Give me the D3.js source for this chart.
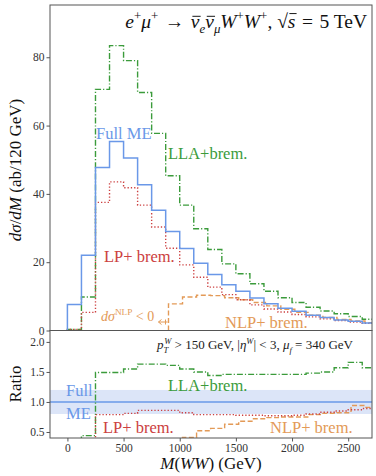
<html>
<head>
<meta charset="utf-8">
<style>
  body { margin: 0; background: #fff; }
  svg { display: block; }
  text { font-family: "Liberation Serif", serif; }
  .axis line { stroke: #555; }
</style>
</head>
<body>
<script src="https://d3js.org/d3.v7.min.js"></script>
<script>
// bin lower edges (GeV), bins are 125 GeV wide
var binLo = [0, 125, 250, 375, 500, 625, 750, 875, 1000, 1125, 1250, 1375, 1500, 1625,
             1750, 1875, 2000, 2125, 2250, 2375, 2500, 2625];
var nlpLo = [900, 1025, 1150, 1275, 1400, 1525, 1650, 1775, 1900, 2025, 2150, 2275, 2400, 2525, 2650];
var binW = 125;

// d sigma / dM  (ab / 120 GeV)
var fullME = [7.6, 22.0, 47.7, 55.3, 50.5, 42.7, 35.2, 29.0, 24.0, 19.7, 16.4, 13.4, 11.5, 9.5,
              7.8, 6.5, 5.6, 4.5, 3.8, 3.1, 2.7, 2.2];
var llaBrem = [0.3, 9.8, 70.6, 83.4, 79.0, 69.7, 57.7, 45.3, 36.7, 29.8, 23.7, 19.5, 16.6, 13.7,
               11.5, 9.6, 8.2, 6.8, 5.7, 4.9, 4.1, 3.3];
var lpBrem = [0.3, 5.3, 37.5, 43.5, 41.8, 36.7, 30.3, 24.1, 19.2, 15.6, 12.7, 10.5, 9.0, 7.5,
              6.3, 5.4, 4.7, 4.0, 3.4, 2.9, 2.5, 2.1];
var nlpBrem = [7.8, 9.8, 10.3, 10.2, 9.6, 9.0, 8.2, 7.2, 6.2, 5.3, 4.5, 3.8, 3.2, 2.8, 2.3];

// ratios to the full matrix element
var llaRatio = [0.04, 0.44, 1.49, 1.49, 1.55, 1.63, 1.63, 1.61, 1.55, 1.50, 1.44, 1.46, 1.46, 1.46,
                1.46, 1.46, 1.46, 1.48, 1.50, 1.57, 1.66, 1.57];
var lpRatio = [0.04, 0.24, 0.79, 0.79, 0.81, 0.86, 0.86, 0.86, 0.82, 0.79, 0.79, 0.79, 0.78, 0.78,
               0.77, 0.77, 0.78, 0.80, 0.83, 0.85, 0.87, 0.89];
var nlpRatio = [0.27, 0.41, 0.52, 0.56, 0.63, 0.68, 0.72, 0.74, 0.75, 0.75, 0.79, 0.81, 0.82, 0.94, 0.91];

var yTicksMain = [0, 20, 40, 60, 80];
var yTicksRatio = [0.5, 1.0, 1.5, 2.0];
var xTicks = [0, 500, 1000, 1500, 2000, 2500];

var col = {full: "#6a98e8", lla: "#3b9b3b", lp: "#cc4040", nlp: "#e39a57"};

var W = 376, H = 476;
var L = 50, R = 372, mTop = 5, mBot = 330.5, rTop = 330.5, rBot = 438;

var svg = d3.select("body").append("svg").attr("width", W).attr("height", H);

var x = d3.scaleLinear().domain([-155, 2712]).range([L, R]);
var y = d3.scaleLinear().domain([0, 95.3]).range([mBot, mTop]);
var yr = d3.scaleLinear().domain([0.4, 2.19]).range([rBot, rTop]);

var defs = svg.append("defs");
defs.append("clipPath").attr("id", "clipM").append("rect")
    .attr("x", L).attr("y", mTop).attr("width", R - L).attr("height", mBot - mTop);
defs.append("clipPath").attr("id", "clipR").append("rect")
    .attr("x", L).attr("y", rTop).attr("width", R - L).attr("height", rBot - rTop);

function stepPts(lo, vals, base) {
    var pts = [[lo[0], base]];
    lo.forEach(function(e, i) { pts.push([e, vals[i]]); });
    pts.push([lo[lo.length - 1] + binW, vals[vals.length - 1]]);
    return pts;
}

function drawStep(g, ys, lo, vals, base, color, dash, wid) {
    var line = d3.line().curve(d3.curveStepAfter)
        .x(function(d) { return x(d[0]); })
        .y(function(d) { return ys(d[1]); });
    g.append("path")
        .attr("d", line(stepPts(lo, vals, base)))
        .attr("fill", "none")
        .attr("stroke", color)
        .attr("stroke-width", wid)
        .attr("stroke-dasharray", dash);
}

// ---- main panel
var gm = svg.append("g").attr("clip-path", "url(#clipM)");
drawStep(gm, y, binLo, llaBrem, 0, col.lla, "6,2,1.2,2", 1.4);
drawStep(gm, y, nlpLo, nlpBrem, 0, col.nlp, "5,2.5", 1.4);
drawStep(gm, y, binLo, lpBrem, 0, col.lp, "1.3,2", 1.4);
drawStep(gm, y, binLo, fullME, 0, col.full, null, 1.5);

// ---- ratio panel
var gr = svg.append("g").attr("clip-path", "url(#clipR)");
gr.append("rect")
    .attr("x", L).attr("width", R - L)
    .attr("y", yr(1.2)).attr("height", yr(0.8) - yr(1.2))
    .attr("fill", "#dce5f8");
gr.append("line")
    .attr("x1", L).attr("x2", R).attr("y1", yr(1)).attr("y2", yr(1))
    .attr("stroke", col.full).attr("stroke-width", 1.5);
drawStep(gr, yr, binLo, llaRatio, 0, col.lla, "6,2,1.2,2", 1.4);
drawStep(gr, yr, nlpLo, nlpRatio, 0, col.nlp, "5,2.5", 1.4);
drawStep(gr, yr, binLo, lpRatio, 0, col.lp, "1.3,2", 1.4);

// ---- axes
function styleAxis(g) {
    g.select(".domain").remove();
    g.attr("font-family", "Liberation Serif").attr("font-size", 11.5);
    g.selectAll("text").attr("fill", "#333");
}
svg.append("g").attr("class", "axis")
    .attr("transform", "translate(" + L + ",0)")
    .call(d3.axisLeft(y).tickValues(yTicksMain).tickSize(3.5).tickPadding(2))
    .call(styleAxis);
svg.append("g").attr("class", "axis")
    .attr("transform", "translate(" + L + ",0)")
    .call(d3.axisLeft(yr).tickValues(yTicksRatio).tickFormat(d3.format(".1f")).tickSize(3.5).tickPadding(2))
    .call(styleAxis);
svg.append("g").attr("class", "axis")
    .attr("transform", "translate(0," + rBot + ")")
    .call(d3.axisBottom(x).tickValues(xTicks).tickFormat(d3.format("d")).tickSize(3.5).tickPadding(2))
    .call(styleAxis);

svg.append("rect").attr("x", L).attr("y", mTop).attr("width", R - L).attr("height", mBot - mTop)
    .attr("fill", "none").attr("stroke", "#555").attr("stroke-width", 1);
svg.append("rect").attr("x", L).attr("y", rTop).attr("width", R - L).attr("height", rBot - rTop)
    .attr("fill", "none").attr("stroke", "#555").attr("stroke-width", 1);

// rich text helper: parts = [text, style, dx]; style words: i, sub, sup, bar
function rich(g, px, py, size, color, parts, anchor, rot) {
    var tr = "translate(" + px + "," + py + ")" + (rot ? " rotate(" + rot + ")" : "");
    var t = g.append("text")
        .attr("transform", tr)
        .attr("font-size", size).attr("fill", color)
        .attr("text-anchor", anchor || "start");
    var shift = 0;
    parts.forEach(function(p) {
        var s = (p[1] || "").split(" ");
        var target = 0;
        if (s.indexOf("sup") >= 0) target = -size * 0.42;
        if (s.indexOf("sub") >= 0) target = size * 0.28;
        var ts = t.append("tspan").text(p[0]).attr("dy", target - shift);
        if (p[2]) ts.attr("dx", p[2]);
        shift = target;
        if (s.indexOf("i") >= 0) ts.attr("font-style", "italic");
        if (s.indexOf("bar") >= 0) ts.classed("bar", true).attr("data-h", s.indexOf("root") >= 0 ? 0.74 : 0.6);
        if (s.indexOf("sup") >= 0 || s.indexOf("sub") >= 0) ts.attr("font-size", size * 0.66);
    });
    // accent bars drawn as lines over the marked pieces
    var bars = [];
    t.selectAll("tspan.bar").each(function() {
        var n = this.getNumberOfChars();
        var a = this.getStartPositionOfChar(0), b = this.getEndPositionOfChar(n - 1);
        var h = +this.getAttribute("data-h");
        bars.push({x1: a.x + size * 0.08, x2: b.x + size * 0.06, y: a.y - size * h});
    });
    var bg = g.append("g").attr("transform", tr);
    bars.forEach(function(bb) {
        bg.append("line").attr("x1", bb.x1).attr("x2", bb.x2).attr("y1", bb.y).attr("y2", bb.y)
            .attr("stroke", color).attr("stroke-width", size * 0.05);
    });
    return t;
}

// title
rich(svg, 367, 28, 19.5, "#111", [
    ["e", "i"], ["+", "sup"], ["\u03bc", "i"], ["+", "sup"], ["\u2004\u2192\u2004", ""],
    ["\u03bd", "i bar"], ["e", "i sub"], ["\u03bd", "i bar"], ["\u03bc", "i sub"],
    ["W", "i"], ["+", "sup"], ["W", "i"], ["+", "sup"], [", \u221a", ""], ["s", "i bar root"], ["\u2004=\u20045 TeV", ""]
], "end");

// axis labels
rich(svg, 21, 170, 17, "#111", [
    ["d\u03c3", "i"], ["/", ""], ["dM", "i"], [" (ab/120 GeV)", ""]
], "middle", -90);
svg.append("text").attr("transform", "translate(21,384) rotate(-90)")
    .attr("text-anchor", "middle").attr("font-size", 17).attr("fill", "#111").text("Ratio");
rich(svg, 211, 469, 17, "#111", [
    ["M", "i"], ["(", ""], ["WW", "i"], [") (GeV)", ""]
], "middle");

// main panel labels
svg.append("text").attr("x", 96).attr("y", 139).attr("font-size", 16.5).attr("fill", col.full).text("Full ME");
svg.append("text").attr("x", 168).attr("y", 159).attr("font-size", 16.5).attr("fill", col.lla).text("LLA+brem.");
svg.append("text").attr("x", 104).attr("y", 262).attr("font-size", 16.5).attr("fill", col.lp).text("LP+ brem.");
svg.append("text").attr("x", 225).attr("y", 328).attr("font-size", 16.5).attr("fill", col.nlp).text("NLP+ brem.");
rich(svg, 101, 321, 14, col.nlp, [["d\u03c3", "i"], ["NLP", "sup"], [" < 0", ""]]);
// arrow pointing left from where NLP turns positive
var ax0 = x(nlpLo[0]);
svg.append("path")
    .attr("d", "M" + (ax0 - 10) + ",322 H" + (ax0 - 1) +
               " M" + (ax0 - 10) + ",322 l3,-2.5 M" + (ax0 - 10) + ",322 l3,2.5" +
               " M" + (ax0 - 3) + ",319.5 V324.5")
    .attr("stroke", col.nlp).attr("fill", "none").attr("stroke-width", 1);

// ratio panel labels
rich(svg, 353, 349, 13, "#222", [
    ["p", "i"], ["T", "i sub"], ["W", "i sup", -4], [" > 150 GeV, |", ""], ["\u03b7", "i"], ["W", "i sup"],
    ["| < 3, ", ""], ["\u03bc", "i"], ["f", "i sub"], [" = 340 GeV", ""]
], "end");
svg.append("text").attr("x", 168).attr("y", 391).attr("font-size", 16.5).attr("fill", col.lla).text("LLA+brem.");
svg.append("text").attr("x", 66).attr("y", 396).attr("font-size", 16.5).attr("fill", col.full).text("Full");
svg.append("text").attr("x", 66).attr("y", 419).attr("font-size", 16.5).attr("fill", col.full).text("ME");
svg.append("text").attr("x", 103).attr("y", 433).attr("font-size", 16.5).attr("fill", col.lp).text("LP+ brem.");
svg.append("text").attr("x", 270).attr("y", 433).attr("font-size", 16.5).attr("fill", col.nlp).text("NLP+ brem.");
</script>
</body>
</html>
